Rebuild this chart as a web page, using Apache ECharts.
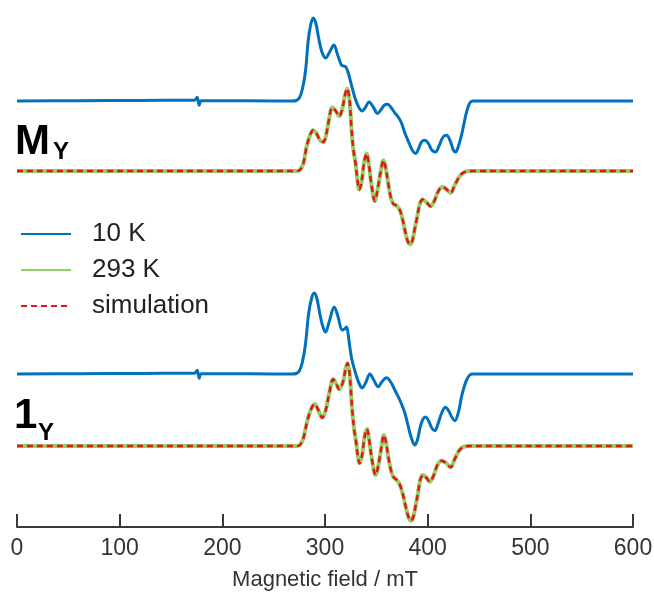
<!DOCTYPE html>
<html>
<head>
<meta charset="utf-8">
<script src="https://cdn.jsdelivr.net/npm/echarts@6/dist/echarts.min.js"></script>
<style>
html,body{margin:0;padding:0;background:#fff;}
#chart{width:654px;height:592px;}
</style>
</head>
<body>
<div id="chart"></div>
<script>
// x-axis ticks (mT)
const xTicks = [0, 100, 200, 300, 400, 500, 600];

// Vertical offsets (arbitrary units) of each stacked trace
const offMy10K = 426;
const offMy293K = 356;
const off1y10K = 153;
const off1y293K = 81;

// M_Y, 10 K : [field mT, intensity]
const my10K = [
  [0,0],[60,0.3],[120,0.5],[165,0.8],[173,0.8],[175.5,3.8],[177.5,-4.2],[179.5,0.3],[200,0.3],[250,0],[268,0],
  [272,0.5],[275,3],[278,12],[281,30],[283.6,60],[286,76],[288.5,83],[291,78],[294,62],[297,49],[300.6,43],
  [304,48],[308.7,56],[312,47],[316,36],[318,35],[320.3,34],[323,27],[326,15],[331,-2],[336.2,-10],
  [339,-7],[343,-1],[347,-6],[351.2,-12.5],[355,-8],[358,-4],[361,-3.3],[364,-6],[368,-12],[371.3,-16],
  [374.5,-22],[377.8,-32],[382.7,-44],[385.5,-50],[388.2,-52.6],[391,-48],[394,-41],[397.3,-39.3],
  [401,-43],[404,-49],[407.7,-51],[411,-45],[415,-36],[418.4,-34.3],[422,-40],[425,-49],[427.2,-51],
  [430,-45],[433,-34],[435.5,-22],[437.9,-11],[441,-2],[444,0],[470,0],[540,0],[600,0]
];

// M_Y, 293 K
const my293K = [
  [0,0],[100,0],[200,0],[260,0],[272,0],[275.6,1],[279,8],[282,24],[285.5,36],[288.5,40.7],[291.5,38],
  [295,31],[298.3,29],[301.5,38],[304,52],[307,63.4],[310.5,60],[313.8,54.7],[317,63],[319.5,76],
  [321.6,82.4],[323.8,72],[325.9,40.7],[327.8,20],[329.8,7.4],[331.5,-8],[333.3,-18.6],[335.5,-12],
  [338,8],[340.5,17.4],[342.8,6],[345,-12],[348.6,-30],[351,-20],[354,-2],[357,10.7],[359.3,2],
  [361.6,-12.6],[364,-26],[366.4,-32.6],[370,-35],[373,-39.3],[375.5,-48],[377.8,-59],[380.5,-70],
  [382.7,-73.3],[385,-70],[387.2,-59],[389.2,-49],[392.4,-33],[395,-28.6],[398.5,-31],[402.8,-35.3],
  [406.5,-30],[410,-21],[414,-16],[418,-18],[422.3,-22],[426,-15],[429.7,-7.6],[433,-3],[436.2,-1],
  [440,0],[500,0],[600,0]
];

// M_Y, simulation
const mySim = [
  [0,0],[100,0],[200,0],[260,0],[272,0],[275.6,1],[279,8],[282,24],[285.5,36],[288.5,40.7],[291.5,38],
  [295,31],[298.3,29],[301.5,38],[304,52],[307,63.4],[310.5,60],[313.8,54.7],[317,63],[319.5,76],
  [321.6,82.4],[323.8,72],[325.9,40.7],[327.8,20],[329.8,7.4],[331.5,-8],[333.3,-18.6],[335.5,-12],
  [338,8],[340.5,17.4],[342.8,6],[345,-12],[348.6,-30],[351,-20],[354,-2],[357,10.7],[359.3,2],
  [361.6,-12.6],[364,-26],[366.4,-32.6],[370,-35],[373,-39.3],[375.5,-48],[377.8,-59],[380.5,-70],
  [382.7,-73.3],[385,-70],[387.2,-59],[389.2,-49],[392.4,-33],[395,-28.6],[398.5,-31],[402.8,-35.3],
  [406.5,-30],[410,-21],[414,-16],[418,-18],[422.3,-22],[426,-15],[429.7,-7.6],[433,-3],[436.2,-1],
  [440,0],[500,0],[600,0]
];

// 1_Y, 10 K
const oneY10K = [
  [0,0],[60,0.3],[120,0.5],[165,0.8],[173,0.8],[175.5,3.8],[177.5,-4.2],[179.5,0.3],[200,0.3],[250,0],[268,0],
  [272,0.5],[275,3],[278,12],[281,30],[284,60],[287,76],[289.5,81],[292,76],[295,60],[298,47],[300.6,42],
  [304,52],[309,67],[312.5,58],[316.8,44],[319,45],[321,47],[323,36],[325.9,15.7],[330.8,-2.7],
  [333.5,-10],[336.2,-14],[339.5,-9],[343.7,0],[347.5,-6],[351.8,-12.7],[356,-7],[360,-3.7],[364,-8],
  [368,-16],[371.3,-22.7],[374.5,-30],[377.8,-39],[382.7,-59],[385.5,-68],[387.5,-71],[390,-66],
  [393,-52],[395.5,-45],[398,-43],[401,-47],[404,-54],[407,-56.7],[410,-50],[414,-38],[417.4,-33.3],
  [420.5,-37],[424,-44],[426.5,-46.7],[430,-38],[433,-22.7],[435.5,-13],[437.9,-6],[441,-1],[444,0],
  [470,0],[540,0],[600,0]
];

// 1_Y, 293 K
const oneY293K = [
  [0,0],[100,0],[200,0],[260,0],[272,0],[275.6,1],[279,8],[282.5,24],[286.5,37],[290,42],[293,37],
  [297.3,28.3],[300.5,35],[304,52],[308,66.7],[311,62],[313.8,56.7],[317.5,64],[320,77],[322,82.7],
  [324,72],[326.2,40],[328.2,18],[330.3,4],[332,-10],[333.7,-17.3],[336,-10],[338.5,9],[340.8,17],
  [343,6],[345.5,-12],[349.3,-29],[352,-19],[355,-1],[357.4,11],[359.7,2],[362,-13],[364.2,-24],
  [366.4,-30.7],[370,-34],[373,-39],[375.5,-47],[378,-58],[381,-70],[383.6,-74.7],[386,-71],
  [388.2,-60],[390.4,-48],[393,-33],[395.6,-29],[399,-32],[402,-35.7],[406,-29],[409.5,-19],
  [413.5,-14.7],[418,-17],[422.3,-21.3],[426,-14],[429.7,-6],[433,-2],[436,-0.5],[440,0],[500,0],[600,0]
];

// 1_Y, simulation
const oneYSim = [
  [0,0],[100,0],[200,0],[260,0],[272,0],[275.6,1],[279,8],[282.5,24],[286.5,37],[290,42],[293,37],
  [297.3,28.3],[300.5,35],[304,52],[308,66.7],[311,62],[313.8,56.7],[317.5,64],[320,77],[322,82.7],
  [324,72],[326.2,40],[328.2,18],[330.3,4],[332,-10],[333.7,-17.3],[336,-10],[338.5,9],[340.8,17],
  [343,6],[345.5,-12],[349.3,-29],[352,-19],[355,-1],[357.4,11],[359.7,2],[362,-13],[364.2,-24],
  [366.4,-30.7],[370,-34],[373,-39],[375.5,-47],[378,-58],[381,-70],[383.6,-74.7],[386,-71],
  [388.2,-60],[390.4,-48],[393,-33],[395.6,-29],[399,-32],[402,-35.7],[406,-29],[409.5,-19],
  [413.5,-14.7],[418,-17],[422.3,-21.3],[426,-14],[429.7,-6],[433,-2],[436,-0.5],[440,0],[500,0],[600,0]
];

const legendNames = ['10 K', '293 K', 'simulation'];
const xLabel = 'Magnetic field / mT';

const BLUE = '#0072BD', GREEN = '#92d060', RED = '#e8141c';
const FONT = 'Liberation Sans, Arial, sans-serif';

function shift(arr, off) { return arr.map(p => [p[0], p[1] + off]); }

function lineSeries(name, data, color, width, dashed, z) {
  return {
    name: name, type: 'line', data: data, smooth: 0.35, symbol: 'none', showSymbol: false,
    z: z, animation: false,
    lineStyle: dashed ? { color: color, width: width, type: [6, 4] } : { color: color, width: width },
    itemStyle: { color: color }
  };
}

const chart = echarts.init(document.getElementById('chart'), null, { renderer: 'canvas' });
chart.setOption({
  animation: false,
  backgroundColor: '#ffffff',
  grid: { left: 17, right: 21, top: 0, bottom: 65, containLabel: false, outerBoundsMode: 'none' },
  xAxis: {
    type: 'value', min: xTicks[0], max: xTicks[xTicks.length - 1], interval: 100,
    name: xLabel, nameLocation: 'middle', nameGap: 42,
    nameTextStyle: { fontFamily: FONT, fontSize: 22, color: '#333' },
    axisLine: { show: true, lineStyle: { color: '#3a3a3a', width: 2 } },
    axisTick: { show: true, inside: true, length: 13, lineStyle: { color: '#3a3a3a', width: 2 } },
    axisLabel: { fontFamily: FONT, fontSize: 23, color: '#333', margin: 10 },
    splitLine: { show: false }
  },
  yAxis: { type: 'value', min: 0, max: 527, show: false, splitLine: { show: false } },
  legend: {
    orient: 'vertical', left: 15, top: 216, itemWidth: 50, itemHeight: 14, itemGap: 10,
    data: legendNames,
    itemStyle: { opacity: 0 },
    textStyle: { fontFamily: FONT, fontSize: 26, color: '#222', padding: [0, 0, 0, 16] }
  },
  series: [
    lineSeries(legendNames[0], shift(my10K, offMy10K), BLUE, 3, false, 2),
    lineSeries(legendNames[1], shift(my293K, offMy293K), GREEN, 4, false, 3),
    lineSeries(legendNames[2], shift(mySim, offMy293K), RED, 2.5, true, 4),
    lineSeries(legendNames[0], shift(oneY10K, off1y10K), BLUE, 3, false, 2),
    lineSeries(legendNames[1], shift(oneY293K, off1y293K), GREEN, 4, false, 3),
    lineSeries(legendNames[2], shift(oneYSim, off1y293K), RED, 2.5, true, 4)
  ],
  graphic: [
    { type: 'text', left: 15, top: 121, style: { text: 'M', font: 'bold 42px ' + FONT, fill: '#000' } },
    { type: 'text', left: 53, top: 140, style: { text: 'Y', font: 'bold 24px ' + FONT, fill: '#000' } },
    { type: 'text', left: 14, top: 395, style: { text: '1', font: 'bold 42px ' + FONT, fill: '#000' } },
    { type: 'text', left: 38, top: 421, style: { text: 'Y', font: 'bold 24px ' + FONT, fill: '#000' } }
  ]
});
</script>
</body>
</html>
